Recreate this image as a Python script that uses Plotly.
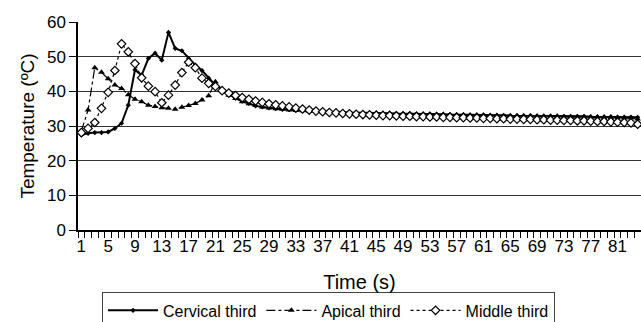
import plotly.graph_objects as go

time_s = list(range(1, 85))

cervical = [27.4, 27.9, 28.1, 28.1, 28.3, 29.3, 30.8, 36.0, 46.2, 44.7,
            49.5, 51.0, 49.0, 57.0, 52.4, 51.7, 49.5, 47.6, 46.0, 43.8,
            41.8, 40.6, 39.4, 38.0, 37.2, 36.5, 35.8, 35.5, 35.2, 35.0,
            34.8, 34.7, 34.5, 34.4, 34.3, 34.2, 34.2, 34.1, 34.0, 34.0,
            33.9, 33.9, 33.8, 33.8, 33.8, 33.7, 33.7, 33.6, 33.6, 33.6,
            33.5, 33.5, 33.5, 33.4, 33.4, 33.3, 33.3, 33.3, 33.2, 33.2,
            33.2, 33.1, 33.1, 33.1, 33.0, 33.0, 33.0, 33.0, 32.9, 32.9,
            32.9, 32.9, 32.8, 32.8, 32.8, 32.8, 32.7, 32.7, 32.7, 32.7,
            32.6, 32.6, 32.6, 32.5]

apical = [28.5, 34.6, 46.8, 45.5, 43.6, 41.8, 40.8, 39.0, 37.7, 37.0,
          36.0, 35.6, 35.3, 35.1, 34.8, 35.4, 35.9, 36.5, 37.5, 38.7,
          42.8, 40.2, 38.9, 37.9, 37.0, 36.4, 35.9, 35.5, 35.2, 35.0,
          34.8, 34.6, 34.5, 34.4, 34.3, 34.2, 34.1, 34.1, 34.0, 33.9,
          33.9, 33.8, 33.8, 33.7, 33.7, 33.6, 33.6, 33.5, 33.5, 33.5,
          33.4, 33.4, 33.3, 33.3, 33.3, 33.2, 33.2, 33.1, 33.1, 33.1,
          33.0, 33.0, 33.0, 32.9, 32.9, 32.9, 32.8, 32.8, 32.8, 32.7,
          32.7, 32.7, 32.6, 32.6, 32.6, 32.5, 32.5, 32.5, 32.4, 32.4,
          32.4, 32.3, 32.3, 32.0]

middle = [28.1, 29.3, 31.0, 35.1, 39.7, 46.0, 53.7, 51.4, 48.0, 43.9,
          41.5, 39.9, 36.7, 38.9, 41.8, 45.4, 48.4, 46.8, 43.8, 42.3,
          41.4, 40.2, 39.5, 38.8, 38.2, 37.7, 37.2, 36.8, 36.4, 36.1,
          35.8, 35.5, 35.2, 34.9, 34.6, 34.3, 34.1, 33.9, 33.8, 33.6,
          33.5, 33.4, 33.3, 33.2, 33.1, 33.0, 33.0, 32.9, 32.8, 32.8,
          32.7, 32.7, 32.6, 32.6, 32.5, 32.5, 32.4, 32.4, 32.3, 32.3,
          32.2, 32.2, 32.1, 32.1, 32.0, 32.0, 31.9, 31.9, 31.8, 31.8,
          31.7, 31.7, 31.6, 31.6, 31.5, 31.5, 31.4, 31.3, 31.3, 31.2,
          31.1, 31.0, 30.9, 30.5]

x_labels = list(range(1, 85, 4))
y_ticks = [0, 10, 20, 30, 40, 50, 60]

FONT = "Liberation Sans, Arial, sans-serif"

fig = go.Figure()
fig.add_trace(go.Scatter(
    x=time_s, y=cervical, name="Cervical third", mode="lines+markers",
    line=dict(color="black", width=2),
    marker=dict(symbol="diamond", size=4, color="black")))
fig.add_trace(go.Scatter(
    x=time_s, y=apical, name="Apical third", mode="lines+markers",
    line=dict(color="black", width=1.2, dash="dashdot"),
    marker=dict(symbol="triangle-up", size=6, color="black")))
fig.add_trace(go.Scatter(
    x=time_s, y=middle, name="Middle third", mode="lines+markers",
    line=dict(color="black", width=1.2, dash="dot"),
    marker=dict(symbol="diamond", size=6.5, color="white",
                line=dict(color="black", width=1.2))))

fig.update_layout(
    width=641, height=322,
    margin=dict(l=78, r=0, t=22, b=92, autoexpand=False),
    paper_bgcolor="white", plot_bgcolor="white",
    font=dict(family=FONT, color="black", size=17),
    showlegend=True,
    legend=dict(orientation="h", x=0.445, xanchor="center", y=-0.30, yanchor="top",
                bordercolor="#444444", borderwidth=1, bgcolor="white",
                font=dict(size=16), itemwidth=50, tracegroupgap=0),
    xaxis=dict(
        range=[0.5, 84.5], tickmode="array", tickvals=x_labels,
        ticktext=[str(v) for v in x_labels], ticks="", showgrid=False,
        showline=True, linecolor="black", linewidth=1.5, zeroline=False,
        tickfont=dict(size=17),
        minor=dict(ticks="outside", tickmode="linear", tick0=0.5, dtick=1,
                   ticklen=6, tickcolor="black", tickwidth=1, showgrid=False),
        title=dict(text="Time (s)", font=dict(size=20), standoff=20)),
    yaxis=dict(
        range=[0, 60], tickmode="array", tickvals=y_ticks,
        ticks="outside", ticklen=7, tickcolor="black",
        showgrid=True, gridcolor="#333333", gridwidth=1.3,
        showline=True, linecolor="black", linewidth=1.5, zeroline=False,
        tickfont=dict(size=17),
        title=dict(text="Temperature (ºC)", font=dict(size=19), standoff=7)),
)

fig.write_html("out.html", config={"displayModeBar": False},
               post_script="document.body.style.margin='0';document.body.style.overflow='hidden';")
